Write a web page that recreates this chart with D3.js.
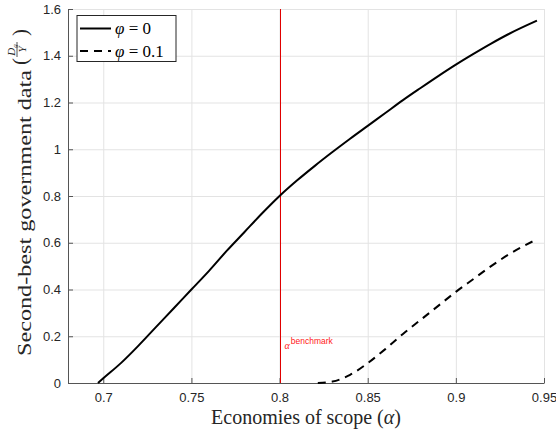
<!DOCTYPE html>
<html>
<head>
<meta charset="utf-8">
<script src="https://cdn.jsdelivr.net/npm/d3@7"></script>
<style>
  body { margin: 0; background: #fff; }
  svg { display: block; }
</style>
</head>
<body>
<div id="chart"></div>
<script>
// values
const alphaSolid = [0.697, 0.70, 0.71, 0.72, 0.73, 0.74, 0.75, 0.76, 0.77, 0.78, 0.79, 0.80, 0.81, 0.82, 0.83, 0.84, 0.85, 0.86, 0.87, 0.88, 0.89, 0.90, 0.91, 0.92, 0.93, 0.946]
const dataSolid  = [0, 0.02, 0.085, 0.16, 0.24, 0.32, 0.40, 0.48, 0.565, 0.645, 0.725, 0.80, 0.867, 0.929, 0.988, 1.045, 1.10, 1.155, 1.21, 1.262, 1.313, 1.362, 1.408, 1.452, 1.493, 1.55]

const alphaDashed = [0.8217, 0.83, 0.84, 0.85, 0.86, 0.87, 0.88, 0.89, 0.90, 0.91, 0.92, 0.93, 0.946]
const dataDashed  = [0, 0.006, 0.035, 0.085, 0.145, 0.21, 0.27, 0.33, 0.39, 0.445, 0.5, 0.55, 0.615]

const xTicks = [0.7, 0.75, 0.8, 0.85, 0.9, 0.95]
const yTicks = [0, 0.2, 0.4, 0.6, 0.8, 1, 1.2, 1.4, 1.6]
const benchmark = 0.8

const SERIF = "'Liberation Serif', 'Times New Roman', serif"
const SANS = "'Liberation Sans', Arial, sans-serif"

const W = 556, H = 436
const MARGIN = { top: 9, right: 12, bottom: 53, left: 68 }
const innerW = W - MARGIN.left - MARGIN.right
const innerH = H - MARGIN.top - MARGIN.bottom

const svg = d3.select('#chart').append('svg')
  .attr('width', W).attr('height', H)

const g = svg.append('g')
  .attr('transform', `translate(${MARGIN.left},${MARGIN.top})`)

const x = d3.scaleLinear().domain([0.68, 0.95]).range([0, innerW])
const y = d3.scaleLinear().domain([0, 1.6]).range([innerH, 0])

// grid
g.append('g')
  .call(d3.axisBottom(x).tickValues(xTicks).tickSize(-innerH).tickFormat(''))
  .attr('transform', `translate(0,${innerH})`)
  .call(s => s.select('.domain').remove())
  .call(s => s.selectAll('.tick line').attr('stroke', '#e3e3e3'))
g.append('g')
  .call(d3.axisLeft(y).tickValues(yTicks).tickSize(-innerW).tickFormat(''))
  .call(s => s.select('.domain').remove())
  .call(s => s.selectAll('.tick line').attr('stroke', '#e3e3e3'))

// axes (ticks inward)
const tickFont = sel => sel.selectAll('.tick text')
  .style('font-family', SANS)
  .style('font-size', '13px')
  .attr('fill', '#262626')

g.append('g')
  .attr('transform', `translate(0,${innerH})`)
  .call(d3.axisBottom(x).tickValues(xTicks).tickSizeInner(-5).tickSizeOuter(0).tickPadding(10)
    .tickFormat(d => String(+d.toFixed(2))))
  .call(s => s.select('.domain').attr('stroke', '#555'))
  .call(s => s.selectAll('.tick line').attr('stroke', '#555'))
  .call(tickFont)

g.append('g')
  .call(d3.axisLeft(y).tickValues(yTicks).tickSizeInner(-5).tickSizeOuter(0).tickPadding(7)
    .tickFormat(d => String(+d.toFixed(1))))
  .call(s => s.select('.domain').attr('stroke', '#555'))
  .call(s => s.selectAll('.tick line').attr('stroke', '#555'))
  .call(tickFont)

// benchmark line
const bx = Math.round(x(benchmark)) + 0.5
g.append('line')
  .attr('x1', bx).attr('x2', bx)
  .attr('y1', y(0)).attr('y2', y(1.6))
  .attr('stroke', '#e00000').attr('stroke-width', 1)

const ann = g.append('text')
  .attr('x', x(benchmark) + 5).attr('y', y(0.145))
  .attr('fill', '#ff2020')
ann.append('tspan').text('α')
  .style('font-family', SERIF).style('font-size', '10px').style('font-style', 'italic')
ann.append('tspan').text('benchmark').attr('dy', -5).attr('dx', 1)
  .style('font-family', SANS).style('font-size', '8.5px')

// curves
const line = d3.line()
  .x(d => x(d[0]))
  .y(d => y(d[1]))
  .curve(d3.curveMonotoneX)

g.append('path')
  .datum(d3.zip(alphaSolid, dataSolid))
  .attr('fill', 'none').attr('stroke', '#000').attr('stroke-width', 2)
  .attr('d', line)

g.append('path')
  .datum(d3.zip(alphaDashed, dataDashed))
  .attr('fill', 'none').attr('stroke', '#000').attr('stroke-width', 2)
  .attr('stroke-dasharray', '8,6')
  .attr('d', line)

// legend
const legend = svg.append('g').attr('transform', 'translate(77,15.5)')
legend.append('rect')
  .attr('width', 99).attr('height', 46)
  .attr('fill', '#fff').attr('stroke', '#262626').attr('stroke-width', 1)
const items = [[' = 0', null], [' = 0.1', '8,6']]
items.forEach((it, i) => {
  const row = legend.append('g').attr('transform', `translate(0,${13 + i * 22.5})`)
  row.append('line').attr('x1', 3).attr('x2', 34).attr('y1', 0).attr('y2', 0)
    .attr('stroke', '#000').attr('stroke-width', 2)
    .attr('stroke-dasharray', it[1])
  const t = row.append('text').attr('x', 38).attr('y', 5.5)
    .style('font-family', SERIF).style('font-size', '17px').attr('fill', '#000')
  t.append('tspan').text('φ').style('font-style', 'italic')
  t.append('tspan').text(it[0])
})

// x label
const xl = svg.append('text')
  .attr('x', 306).attr('y', 424)
  .attr('text-anchor', 'middle')
  .style('font-family', SERIF).style('font-size', '20px')
  .attr('fill', '#262626')
xl.append('tspan').text('Economies of scope (')
xl.append('tspan').text('α').style('font-style', 'italic')
xl.append('tspan').text(')')

// y label
const yl = svg.append('g').attr('transform', 'rotate(-90)')
yl.append('text')
  .attr('x', -356).attr('y', 31)
  .attr('textLength', 286).attr('lengthAdjust', 'spacingAndGlyphs')
  .style('font-family', SERIF).style('font-size', '19px')
  .attr('fill', '#262626')
  .text('Second-best government data')
const frac = yl.append('g').style('font-family', SERIF).attr('fill', '#262626')
frac.append('text').attr('x', -65).attr('y', 27).style('font-size', '21px').text('(')
frac.append('text').attr('x', -36).attr('y', 27).style('font-size', '21px').text(')')
const num = frac.append('text').attr('x', -50).attr('y', 14.5).attr('text-anchor', 'middle')
  .style('font-size', '11px').style('font-style', 'italic')
num.append('tspan').text('D')
num.append('tspan').text('g').style('font-size', '7px').attr('dy', 2)
frac.append('line').attr('x1', -57).attr('x2', -42).attr('y1', 17).attr('y2', 17)
  .attr('stroke', '#262626').attr('stroke-width', 0.8)
frac.append('text').attr('x', -49.5).attr('y', 26).attr('text-anchor', 'middle')
  .style('font-size', '11px').style('font-style', 'italic').text('Y')
</script>
</body>
</html>
